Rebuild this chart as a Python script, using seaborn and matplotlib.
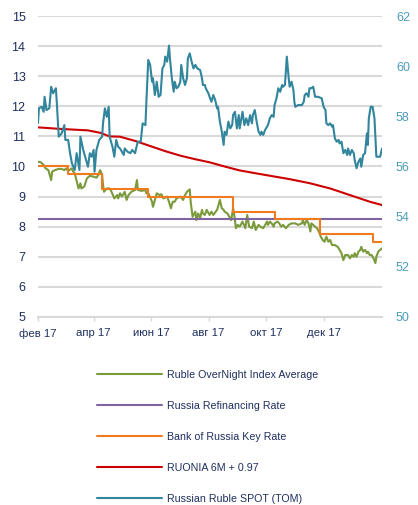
import numpy as np
import pandas as pd
import matplotlib
matplotlib.use("Agg")
import matplotlib.pyplot as plt
import matplotlib.dates as mdates
import seaborn as sns

# ---------------- data ----------------
start = pd.Timestamp("2017-02-23")

spot_days = [0, 1, 4, 6, 7, 9, 12, 14, 16, 19, 20, 22, 25, 28, 29, 32, 34, 36, 39, 41, 44, 45, 48, 51, 53,
             55, 57, 59, 60, 62, 65, 68, 69, 71, 73, 75, 76, 79, 81, 83, 85, 87, 91, 92, 95, 98, 100, 103,
             105, 106, 109, 111, 114, 115, 117, 119, 121, 122, 124, 126, 128, 130, 132, 134, 135, 137, 139,
             140, 142, 144, 145, 147, 149, 151, 152, 154, 156, 158, 159, 161, 163, 165, 167, 169, 172, 174,
             175, 177, 178, 181, 182, 184, 186, 188, 190, 191, 193, 195, 197, 198, 200, 202, 204, 206, 207,
             209, 211, 213, 214, 217, 219, 221, 223, 225, 227, 228, 230, 232, 234, 236, 237, 239, 241, 244,
             246, 248, 250, 251, 253, 255, 257, 259, 260, 262, 264, 266, 267, 269, 271, 272, 273, 276, 280,
             282, 283, 285, 287, 288, 290, 292, 294, 297, 301, 303, 305, 306, 308, 310, 312, 313, 315, 317,
             319, 320, 322, 324, 326, 328, 329, 331, 333, 335, 336, 338, 340, 342, 343, 345, 347, 349, 350,
             351, 353, 355, 357, 359, 361, 363, 365]
spot_vals = [57.73, 58.32, 58.38, 58.18, 58.78, 58.25, 58.32, 59.18, 58.92, 59.12, 58.52, 57.19, 57.32, 57.65,
             57.06, 57.06, 56.53, 56.13, 55.86, 56.53, 55.86, 57.19, 56.66, 56.26, 55.99, 56.53, 56.39, 56.66,
             55.79, 56.66, 57.06, 57.19, 57.72, 58.32, 57.98, 58.38, 57.19, 56.79, 56.39, 57.06, 56.79, 56.72,
             56.46, 56.72, 56.59, 56.53, 56.66, 56.53, 56.86, 56.99, 56.99, 57.72, 57.65, 58.58, 60.25, 60.05,
             59.38, 59.52, 58.85, 59.38, 58.78, 58.85, 59.91, 60.05, 60.38, 60.18, 60.82, 60.31, 59.52, 58.98,
             59.38, 59.12, 59.18, 59.38, 60.05, 59.52, 59.25, 59.52, 60.31, 60.51, 60.18, 59.91, 60.05, 59.91,
             59.85, 59.52, 59.25, 59.25, 59.12, 58.90, 58.78, 58.58, 58.85, 58.65, 58.32, 58.38, 57.79, 57.39,
             56.86, 57.39, 57.26, 57.79, 57.52, 57.65, 58.05, 58.18, 57.52, 58.05, 57.52, 58.18, 57.65, 57.92,
             57.65, 58.05, 57.72, 58.05, 58.25, 57.79, 57.39, 57.26, 57.39, 57.26, 57.46, 57.65, 57.92, 58.05,
             57.98, 58.45, 58.72, 59.12, 58.98, 59.25, 59.18, 59.25, 60.38, 59.52, 59.18, 59.38, 59.05, 58.58,
             58.38, 58.45, 58.45, 58.58, 58.85, 58.92, 58.78, 59.12, 59.12, 59.18, 58.78, 58.78, 58.72, 58.38,
             58.25, 57.72, 57.65, 57.72, 57.59, 57.65, 57.12, 56.99, 57.06, 56.92, 56.99, 56.53, 56.66, 56.46,
             56.72, 56.46, 56.66, 56.53, 56.26, 55.93, 56.19, 56.32, 55.99, 56.46, 56.53, 57.32, 56.86, 57.92,
             58.38, 58.38, 57.92, 56.39, 56.39, 56.39, 56.72]

ruonia_days = [0, 3, 6, 8, 11, 14, 15, 18, 22, 25, 28, 30, 32, 36, 37, 39, 43, 45, 46, 49, 52, 55, 59, 62, 64,
               66, 68, 69, 70, 73, 76, 78, 81, 84, 85, 87, 89, 92, 94, 96, 99, 103, 105, 106, 110, 114, 115,
               117, 121, 122, 124, 126, 129, 131, 133, 137, 139, 141, 143, 145, 147, 151, 154, 156, 158, 161,
               162, 164, 167, 168, 170, 172, 174, 175, 177, 179, 182, 184, 186, 190, 191, 193, 195, 197, 198,
               201, 203, 205, 207, 208, 210, 212, 214, 217, 220, 222, 224, 227, 229, 231, 234, 236, 239, 241,
               243, 244, 246, 248, 250, 251, 254, 256, 258, 260, 263, 266, 269, 273, 276, 280, 281, 283, 285,
               287, 289, 290, 292, 294, 296, 298, 300, 302, 304, 306, 308, 310, 312, 315, 318, 320, 322, 324,
               326, 329, 331, 333, 335, 336, 338, 340, 342, 343, 345, 347, 349, 350, 352, 354, 356, 358, 359,
               361, 363, 365]
ruonia_vals = [10.16, 10.14, 10.05, 9.94, 9.88, 9.55, 9.83, 9.88, 9.92, 9.92, 9.88, 9.94, 9.85, 9.94, 9.85,
               9.77, 9.27, 9.44, 9.27, 9.33, 9.61, 9.69, 9.66, 9.63, 9.72, 9.88, 9.72, 9.39, 9.16, 9.27, 9.27,
               9.16, 8.94, 9.05, 8.94, 9.11, 9.00, 9.16, 8.89, 9.05, 9.16, 9.22, 9.55, 9.22, 9.19, 9.22, 9.11,
               9.11, 8.83, 8.66, 8.89, 9.11, 9.05, 9.08, 8.94, 9.00, 8.83, 8.61, 8.83, 8.83, 8.94, 9.00, 8.89,
               9.05, 9.16, 9.24, 8.83, 8.33, 8.50, 8.22, 8.44, 8.28, 8.56, 8.44, 8.39, 8.56, 8.39, 8.50, 8.39,
               8.56, 8.66, 8.89, 8.61, 8.56, 8.50, 8.44, 8.33, 8.22, 8.61, 8.44, 7.95, 8.06, 8.00, 8.17, 7.95,
               8.39, 8.00, 7.95, 8.17, 7.89, 8.06, 8.00, 7.95, 8.06, 8.17, 8.06, 8.17, 8.11, 8.00, 8.11, 8.17,
               8.11, 8.00, 8.06, 7.95, 8.06, 8.11, 8.11, 8.06, 8.11, 8.22, 8.06, 8.22, 8.11, 7.84, 8.11, 8.06,
               8.00, 7.95, 7.84, 7.67, 7.56, 7.50, 7.67, 7.50, 7.56, 7.39, 7.39, 7.33, 7.23, 7.12, 6.89, 7.06,
               7.06, 6.95, 7.06, 7.00, 7.12, 7.00, 7.17, 7.23, 7.33, 7.17, 7.23, 7.12, 7.17, 7.06, 7.06, 6.95,
               6.79, 7.00, 7.17, 7.23, 7.28]

refi_days = [0, 365]
refi_vals = [8.25, 8.25]

key_days = [0, 32, 68, 117, 207, 251, 299, 355, 365]
key_vals = [10.0, 9.75, 9.25, 9.0, 8.5, 8.25, 7.75, 7.5, 7.5]

r6m_days = [0, 23, 53, 66, 76, 87, 103, 119, 135, 151, 167, 182, 198, 214, 230, 241, 267, 289, 310, 331, 352, 365]
r6m_vals = [11.30, 11.25, 11.20, 11.12, 11.00, 10.99, 10.85, 10.68, 10.51, 10.36, 10.24, 10.14, 10.00, 9.87,
            9.78, 9.72, 9.58, 9.44, 9.27, 9.05, 8.83, 8.72]

tick_dates = ["2017-02-23", "2017-04-23", "2017-06-23", "2017-08-23", "2017-10-23", "2017-12-23"]
tick_labels = ["фев 17", "апр 17", "июн 17", "авг 17", "окт 17", "дек 17"]

labels = ["Ruble OverNight Index Average", "Russia Refinancing Rate", "Bank of Russia Key Rate",
          "RUONIA 6M + 0.97", "Russian Ruble SPOT (TOM)"]
colors = ["#7A9A3C", "#8064A2", "#F07B1E", "#CC0000", "#31859C"]

# ---------------- style ----------------
sns.set_theme(style="white")
plt.rcParams["font.family"] = ["Liberation Sans", "DejaVu Sans"]

navy = "#1F2F5F"
teal = "#4C9CB8"
grid_c = "#D9D9D9"


def to_dates(days):
    return start + pd.to_timedelta(np.asarray(days), unit="D")


fig = plt.figure(figsize=(4.18, 5.05), dpi=100)
ax = fig.add_axes([0.0909, 0.3723, 0.823, 0.596])
ax2 = ax.twinx()

lw = 1.5
sns.lineplot(x=to_dates(ruonia_days), y=ruonia_vals, ax=ax, color=colors[0], lw=lw, label=labels[0], legend=False)
sns.lineplot(x=to_dates(refi_days), y=refi_vals, ax=ax, color=colors[1], lw=lw, label=labels[1], legend=False)
sns.lineplot(x=to_dates(key_days), y=key_vals, ax=ax, color=colors[2], lw=lw, label=labels[2],
             drawstyle="steps-post", legend=False)
sns.lineplot(x=to_dates(r6m_days), y=r6m_vals, ax=ax, color=colors[3], lw=lw, label=labels[3], legend=False)
sns.lineplot(x=to_dates(spot_days), y=spot_vals, ax=ax2, color=colors[4], lw=lw, label=labels[4], legend=False)

ax.set_ylim(5, 15)
ax.set_yticks(range(5, 16))
ax2.set_ylim(50, 62)
ax2.set_yticks(range(50, 63, 2))
ax.set_xlim(start, start + pd.Timedelta(days=365))

ax.grid(axis="y", color=grid_c, lw=1.5)
ax.grid(axis="x", visible=False)
ax2.grid(False)
ax.set_axisbelow(True)

for a in (ax, ax2):
    for s in a.spines.values():
        s.set_visible(False)
ax.spines["bottom"].set_visible(True)
ax.spines["bottom"].set_color(grid_c)
ax.spines["bottom"].set_linewidth(1.5)

ax.set_xticks(mdates.date2num(pd.to_datetime(tick_dates)))
ax.set_xticklabels(tick_labels)
ax.tick_params(axis="x", which="both", length=3, width=1, color=grid_c, labelcolor=navy, labelsize=8.2,
               pad=5, direction="out", bottom=True)
ax.tick_params(axis="y", length=0, labelcolor=navy, labelsize=9, pad=9)
ax2.tick_params(axis="y", length=0, labelcolor=teal, labelsize=9, pad=10)
ax.set_xlabel("")
ax.set_ylabel("")
ax2.set_ylabel("")

h1, l1 = ax.get_legend_handles_labels()
h2, l2 = ax2.get_legend_handles_labels()
leg = fig.legend(h1 + h2, l1 + l2, loc="upper left", bbox_to_anchor=(0.232, 0.268), frameon=False,
                 fontsize=7.7, handlelength=6.1, handletextpad=0.45, labelspacing=1.96, borderpad=0,
                 borderaxespad=0)
for t in leg.get_texts():
    t.set_color(navy)

fig.savefig("out.png", dpi=100)
